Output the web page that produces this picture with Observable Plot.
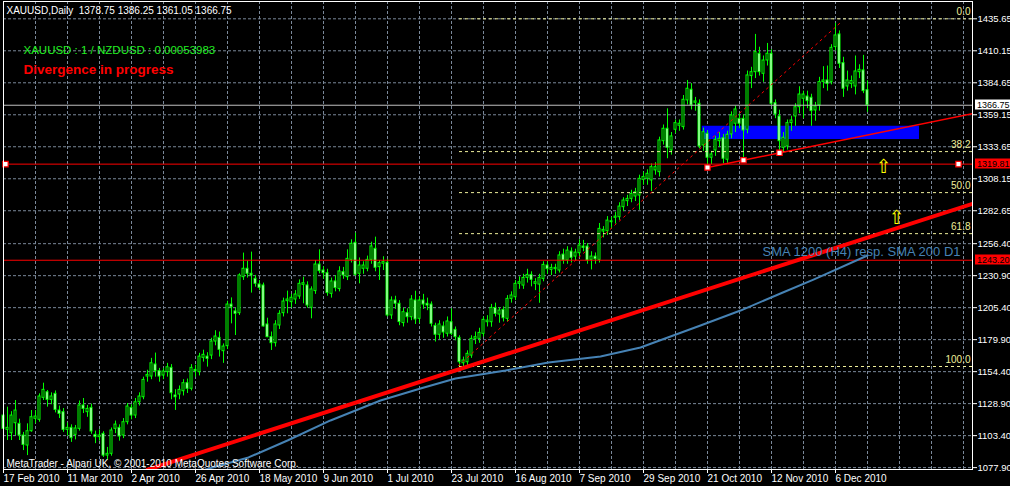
<!DOCTYPE html>
<html><head><meta charset="utf-8">
<script src="https://cdn.jsdelivr.net/npm/d3@7"></script>
<script src="https://cdn.jsdelivr.net/npm/@observablehq/plot@0.6"></script>
<style>
html,body{margin:0;padding:0;background:#000;overflow:hidden}
#chart{width:1010px;height:486px}
</style></head><body><div id="chart"></div>
<script>
// ---- Daily XAUUSD candles (bar index 0 = 17 Feb 2010) ----
const opens = [1119.4,1108.0,1105.3,1113.3,1112.8,1103.5,1095.5,1106.9,1116.8,1116.0,
1133.5,1138.0,1131.9,1136.7,1123.4,1122.1,1108.0,1109.6,1104.0,1108.8,
1127.4,1122.1,1125.5,1104.0,1102.2,1104.8,1087.5,1088.9,1108.8,1109.6,
1103.5,1114.1,1125.5,1119.4,1130.0,1134.0,1150.5,1150.5,1160.1,1154.8,
1151.3,1154.0,1157.4,1135.4,1136.2,1138.8,1145.2,1140.7,1155.8,1154.0,
1165.4,1166.4,1167.2,1178.4,1181.3,1170.7,1174.7,1207.9,1202.4,1201.0,
1229.7,1236.4,1232.4,1228.4,1223.9,1223.1,1192.0,1181.9,1177.1,1191.2,
1201.0,1210.6,1209.8,1211.9,1214.3,1223.6,1223.1,1205.3,1218.6,1239.8,
1235.0,1232.9,1216.4,1226.3,1220.2,1233.7,1229.7,1243.5,1257.1,1232.4,
1236.4,1236.4,1243.5,1252.3,1237.7,1240.4,1241.2,1199.2,1211.1,1208.5,
1193.1,1201.0,1197.8,1211.1,1196.5,1211.1,1208.5,1207.9,1190.9,1183.8,
1190.4,1184.6,1193.8,1187.7,1181.3,1161.1,1161.9,1167.2,1180.5,1180.5,
1184.5,1193.8,1193.8,1205.2,1199.9,1203.6,1196.5,1212.4,1213.7,1224.4,
1223.0,1229.1,1231.5,1224.4,1223.8,1228.3,1239.0,1235.5,1236.1,1235.0,
1247.7,1243.0,1250.1,1246.1,1248.8,1254.1,1254.1,1243.5,1246.1,1243.5,
1266.1,1266.3,1273.5,1277.0,1277.5,1285.5,1290.3,1292.1,1294.0,1294.8,
1307.3,1308.1,1306.8,1314.8,1313.4,1338.1,1348.0,1330.7,1347.2,1350.4,
1349.3,1370.6,1379.1,1368.7,1367.9,1334.7,1344.0,1324.9,1330.7,1338.1,
1340.5,1323.3,1343.5,1352.0,1355.9,1355.9,1347.2,1390.0,1393.1,1407.8,
1391.8,1402.4,1407.8,1368.4,1357.8,1332.8,1333.9,1352.5,1357.8,1365.2,
1371.9,1373.7,1372.7,1362.6,1366.6,1385.2,1386.5,1385.2,1413.1,1423.2,
1400.3,1381.7,1383.8,1381.7,1393.1,1394.5,1378.75];
const highs = [1123.0,1126.1,1122.5,1131.4,1116.5,1106.0,1112.8,1123.4,1123.4,1136.7,
1145.2,1139.4,1137.5,1139.0,1127.0,1125.0,1113.5,1112.0,1111.5,1131.0,
1133.0,1127.5,1128.5,1107.0,1108.0,1106.5,1094.0,1109.5,1115.0,1112.0,
1117.0,1129.0,1128.0,1133.0,1137.5,1150.0,1155.5,1165.0,1169.2,1157.0,
1157.0,1161.0,1160.0,1140.0,1143.0,1148.0,1148.5,1160.0,1159.5,1169.0,
1171.5,1169.5,1181.0,1187.0,1186.0,1176.5,1210.5,1213.2,1205.0,1232.4,
1248.9,1242.5,1249.7,1231.1,1227.0,1225.0,1197.0,1186.0,1195.0,1203.0,
1213.0,1218.6,1216.0,1219.0,1227.5,1229.7,1226.0,1222.0,1243.0,1251.5,
1238.0,1236.0,1229.0,1231.0,1238.0,1237.5,1251.5,1259.5,1264.8,1245.0,
1242.0,1246.5,1257.6,1261.6,1243.0,1246.0,1244.0,1214.0,1214.5,1211.0,
1205.0,1204.5,1215.0,1218.5,1214.0,1216.0,1213.0,1210.0,1193.0,1195.0,
1194.0,1198.0,1204.5,1190.0,1183.0,1166.0,1171.0,1183.0,1186.0,1189.0,
1198.0,1199.0,1208.0,1209.0,1205.5,1206.0,1215.0,1218.0,1227.0,1230.0,
1232.0,1236.0,1234.0,1228.5,1232.0,1242.0,1242.0,1240.0,1240.0,1250.0,
1252.0,1254.0,1253.0,1252.0,1259.5,1259.0,1256.5,1250.0,1249.0,1272.5,
1270.0,1278.0,1277.5,1281.5,1289.0,1293.0,1295.0,1299.0,1300.5,1311.0,
1313.5,1315.3,1320.0,1321.0,1341.3,1351.0,1363.9,1345.0,1355.0,1355.0,
1374.5,1386.5,1384.0,1373.0,1371.0,1348.5,1346.5,1330.0,1342.0,1345.0,
1343.5,1346.0,1361.5,1366.0,1360.0,1359.0,1394.0,1397.0,1423.2,1413.0,
1406.0,1416.0,1411.0,1371.0,1362.8,1345.0,1355.0,1358.0,1368.0,1381.5,
1378.0,1378.0,1375.5,1369.0,1389.0,1397.5,1398.0,1415.0,1432.0,1426.0,
1405.0,1394.0,1390.0,1406.0,1399.0,1406.5,1386.25];
const lows = [1106.0,1099.5,1099.5,1103.5,1099.5,1091.5,1087.5,1106.1,1112.8,1114.1,
1131.4,1126.1,1128.0,1121.5,1117.0,1106.0,1103.0,1098.0,1100.0,1107.0,
1121.0,1118.0,1104.5,1097.0,1099.0,1086.0,1084.0,1087.0,1105.0,1099.0,
1101.0,1112.0,1116.0,1117.0,1127.0,1132.0,1146.0,1148.0,1150.0,1146.0,
1148.0,1150.0,1132.0,1123.5,1132.0,1135.0,1137.0,1139.0,1150.0,1151.0,
1162.0,1158.0,1164.0,1175.0,1166.0,1161.0,1172.0,1192.5,1183.2,1199.2,
1227.1,1229.0,1217.0,1221.7,1219.0,1189.9,1181.4,1171.3,1174.0,1188.0,
1198.0,1200.5,1205.0,1208.0,1212.0,1208.5,1205.0,1196.5,1216.0,1232.4,
1228.0,1214.5,1213.0,1218.0,1218.0,1228.0,1227.0,1241.0,1230.5,1224.4,
1232.0,1234.0,1240.0,1234.0,1227.1,1235.0,1198.0,1196.0,1204.0,1191.0,
1190.0,1193.0,1195.0,1192.0,1193.0,1204.0,1203.0,1190.0,1178.0,1180.0,
1181.0,1182.0,1183.0,1179.0,1158.0,1157.0,1159.0,1165.0,1176.0,1177.0,
1182.0,1190.0,1189.8,1198.0,1193.0,1194.0,1194.0,1209.0,1211.0,1220.0,
1220.0,1225.0,1222.0,1219.0,1208.9,1226.0,1232.0,1231.0,1232.0,1233.0,
1240.0,1240.0,1241.0,1243.0,1246.0,1250.0,1240.0,1235.5,1240.0,1241.0,
1261.0,1263.0,1268.0,1272.0,1275.0,1282.0,1286.0,1289.0,1290.0,1283.0,
1303.0,1303.0,1298.0,1311.0,1309.5,1335.0,1324.1,1327.0,1344.0,1346.0,
1347.0,1367.0,1363.0,1362.0,1332.0,1330.0,1317.0,1319.5,1326.0,1333.0,
1320.0,1320.5,1340.0,1345.0,1348.0,1322.7,1344.0,1380.0,1388.0,1390.0,
1385.0,1398.0,1366.0,1356.0,1329.4,1329.0,1331.0,1346.0,1350.0,1360.0,
1356.0,1364.0,1350.0,1354.0,1362.0,1380.0,1378.0,1383.0,1410.0,1396.0,
1373.0,1378.0,1380.0,1375.0,1388.0,1376.0,1361.05];
const closes = [1108.8,1109.6,1119.4,1123.4,1103.5,1096.0,1106.9,1118.1,1118.6,1134.6,
1139.9,1131.9,1134.6,1123.9,1120.7,1108.0,1109.6,1101.4,1109.1,1127.4,
1124.7,1124.7,1106.7,1102.2,1103.5,1087.5,1088.9,1107.5,1112.2,1102.7,
1114.1,1126.6,1119.4,1130.0,1134.6,1147.8,1151.8,1161.1,1154.8,1150.5,
1154.5,1157.9,1137.2,1134.0,1139.9,1145.2,1140.7,1157.4,1154.8,1166.4,
1167.8,1164.6,1178.4,1182.4,1171.8,1174.4,1207.9,1205.8,1200.5,1231.1,
1236.4,1232.4,1231.1,1224.4,1221.2,1190.4,1181.9,1177.1,1192.0,1200.5,
1210.3,1211.9,1213.3,1215.9,1224.4,1224.9,1207.1,1219.9,1239.8,1234.5,
1232.9,1217.0,1226.3,1221.0,1234.3,1231.1,1244.3,1256.3,1231.6,1239.0,
1239.0,1243.5,1254.2,1237.2,1240.9,1241.7,1199.2,1211.1,1208.5,1193.9,
1201.8,1197.8,1211.9,1196.0,1211.1,1207.9,1207.1,1192.5,1183.8,1192.0,
1185.6,1194.4,1184.5,1181.9,1161.9,1163.3,1168.6,1180.5,1181.9,1185.3,
1195.7,1195.1,1205.2,1200.4,1203.1,1197.0,1212.4,1215.1,1224.4,1225.7,
1229.1,1231.5,1227.6,1225.7,1229.1,1239.5,1236.1,1237.1,1237.1,1247.0,
1243.0,1250.9,1245.1,1249.3,1254.9,1253.1,1243.0,1246.1,1244.0,1268.2,
1267.4,1274.8,1274.3,1278.0,1286.0,1290.8,1292.1,1296.1,1297.4,1308.1,
1309.5,1312.1,1317.4,1317.4,1338.7,1348.0,1332.8,1341.9,1352.5,1352.0,
1371.1,1379.9,1366.6,1369.8,1333.9,1345.3,1324.9,1327.5,1339.2,1340.0,
1324.1,1343.2,1358.6,1363.4,1352.0,1346.6,1390.5,1393.1,1409.1,1393.1,
1402.4,1407.8,1367.9,1359.4,1338.1,1340.8,1352.5,1354.6,1365.2,1375.3,
1375.3,1370.0,1362.1,1365.8,1385.2,1386.5,1383.8,1412.5,1422.4,1399.8,
1379.9,1386.5,1386.0,1393.7,1395.0,1378.0,1366.75];

// ---- axes ----
const dateTickIndex = [0,16,32,48,64,80,96,112,128,144,160,176,192,208];
const dateTickLabels = ["17 Feb 2010","11 Mar 2010","2 Apr 2010","26 Apr 2010","18 May 2010","9 Jun 2010","1 Jul 2010","23 Jul 2010","16 Aug 2010","7 Sep 2010","29 Sep 2010","21 Oct 2010","12 Nov 2010","6 Dec 2010"];
const gridIndex = [0,8,16,24,32,40,48,56,64,72,80,88,96,104,112,120,128,136,144,152,160,168,176,184,192,200,208,216,224,232,240];
const priceTicks = [1435.65,1410.15,1384.65,1359.15,1333.65,1308.15,1282.65,1256.40,1230.90,1205.40,1179.90,1154.40,1128.90,1103.40,1077.90];

// ---- SMA 200 D1 ----
const smaIndex = [50.5,61.25,71,81.75,94.25,104.25,113,125.5,136.25,149.25,159.25,174.25,184.25,194.25,202.5,216];
const smaValues = [1076.4,1086.0,1099.5,1115.5,1131.4,1141.0,1148.9,1155.3,1161.7,1166.5,1173.6,1191.2,1203.1,1216.7,1227.8,1247.0];

// ---- drawn objects ----
const trendIndex = [36, 242.25];          // long-term support (thick)
const trendPrice = [1076.2, 1288.2];
const supportIndex = [176, 242.25];       // short-term support (thin)
const supportPrice = [1317.1, 1360.0];
const fibDiagIndex = [113.75, 209];       // Fibonacci anchor line
const fibDiagPrice = [1159.3, 1431.9];
const fibLabels = ["0.0","38.2","50.0","61.8","100.0"];
const fibPrices = [1435.65,1329.8,1297.1,1264.4,1158.5];
const fibStart = 114;
const levelPrices = [1319.81, 1243.20];
const markerIndex = [0.5, 238.75, 176, 185, 194];
const markerPrice = [1319.81, 1319.81, 1317.1, 1322.9, 1328.8];
const zoneIndex = [174.7, 229];
const zonePrice = [1339.4, 1350.0];
const arrowIndex = [220, 223.25];
const arrowPrice = [1317.9, 1277.3];
const smaNoteIndex = 239.25, smaNotePrice = 1250.2;

const rows = opens.map((o, i) => ({i, o, h: highs[i], l: lows[i], c: closes[i]}));
const bulls = rows.filter(d => d.c >= d.o), bears = rows.filter(d => d.c < d.o);
const sma = smaIndex.map((i, k) => ({i, v: smaValues[k]}));
const trend = trendIndex.map((i, k) => ({i, v: trendPrice[k]}));
const support = supportIndex.map((i, k) => ({i, v: supportPrice[k]}));
const fibDiag = fibDiagIndex.map((i, k) => ({i, v: fibDiagPrice[k]}));
const fibs = fibLabels.map((t, k) => ({t, v: fibPrices[k]}));
const markers = markerIndex.map((i, k) => ({i, v: markerPrice[k]}));
const arrows = arrowIndex.map((i, k) => ({i, v: arrowPrice[k]}));
const last = rows[rows.length - 1];
const labelMap = new Map(dateTickIndex.map((d, k) => [d, dateTickLabels[k]]));
const header = `XAUUSD,Daily  ${last.o.toFixed(2)} ${last.h.toFixed(2)} ${last.l.toFixed(2)} ${last.c.toFixed(2)}`;
const lime = "#00ff00", fibColor = "#eeee9a", gridColor = "#7a8899";

const plot = Plot.plot({
  width: 1010, height: 486,
  marginLeft: 3, marginRight: 38, marginTop: 1, marginBottom: 17,
  style: {background: "#000", color: "#fff", fontFamily: "'Liberation Sans', Arial, sans-serif", fontSize: "10px", overflow: "visible"},
  x: {domain: [0, 242.25], axis: null},
  y: {domain: [1076.4, 1449.44], axis: null},
  marks: [
    Plot.gridY(priceTicks, {stroke: gridColor, strokeOpacity: 1, strokeDasharray: "3,2"}),
    Plot.gridX(gridIndex, {stroke: gridColor, strokeOpacity: 1, strokeDasharray: "3,2"}),
    Plot.rect([0], {x1: zoneIndex[0], x2: zoneIndex[1], y1: zonePrice[0], y2: zonePrice[1], fill: "#0000ff"}),
    Plot.ruleX(rows, {x: "i", y1: "l", y2: "h", stroke: lime}),
    Plot.rect(bulls, {x1: d => d.i - 0.25, x2: d => d.i + 0.25, y1: "o", y2: "c", fill: "#000", stroke: lime}),
    Plot.rect(bears, {x1: d => d.i - 0.25, x2: d => d.i + 0.25, y1: "o", y2: "c", fill: "#fff", stroke: lime}),
    Plot.ruleY(fibs, {y: "v", x1: fibStart, x2: 242.25, stroke: fibColor, strokeDasharray: "3,3"}),
    Plot.text(fibs, {x: 242.25, y: "v", text: "t", textAnchor: "end", dx: -2, dy: -7, fill: fibColor, fontSize: 10}),
    Plot.ruleY(levelPrices, {y: d => d, stroke: "#ff0000"}),
    Plot.ruleY([last.c], {y: d => d, stroke: "#c0c0c0"}),
    Plot.line(sma, {x: "i", y: "v", stroke: "#4682b4", strokeWidth: 2, clip: true}),
    Plot.line(trend, {x: "i", y: "v", stroke: "#ff0000", strokeWidth: 4, clip: true}),
    Plot.line(support, {x: "i", y: "v", stroke: "#ff0000", strokeWidth: 1.5, clip: true}),
    Plot.line(fibDiag, {x: "i", y: "v", stroke: "#ff0000", strokeWidth: 1, strokeDasharray: "2,4"}),
    Plot.dot(markers, {x: "i", y: "v", symbol: "square", r: 3, fill: "#fff", stroke: "#ff0000", strokeWidth: 1.2}),
    Plot.text(arrows, {x: "i", y: "v", text: () => "⇧", fill: "#ffff00", fontSize: 19, fontFamily: "DejaVu Sans"}),
    Plot.text(["SMA 1200 (H4) resp. SMA 200 D1"], {x: smaNoteIndex, y: smaNotePrice, text: d => d, textAnchor: "end", fill: "#4682b4", fontSize: 13}),
    Plot.text([header], {frameAnchor: "top-left", dx: 3, dy: 5, text: d => d, textAnchor: "start", lineAnchor: "top", fill: "#fff", fontSize: 10}),
    Plot.text(["XAUUSD : 1 / NZDUSD : 0.00053983"], {frameAnchor: "top-left", dx: 20, dy: 44, text: d => d, textAnchor: "start", lineAnchor: "top", fill: "#22ee22", fontSize: 11.5}),
    Plot.text(["Divergence in progress"], {frameAnchor: "top-left", dx: 20, dy: 63, text: d => d, textAnchor: "start", lineAnchor: "top", fill: "#ff0000", fontSize: 13.5, fontWeight: "bold"}),
    Plot.text(["MetaTrader - Alpari UK, © 2001-2010 MetaQuotes Software Corp."], {frameAnchor: "bottom-left", dx: 3, dy: -3, text: d => d, textAnchor: "start", lineAnchor: "bottom", fill: "#fff", fontSize: 10}),
    Plot.frame({stroke: "#fff"}),
    Plot.axisY(priceTicks, {anchor: "right", tickSize: 4, tickPadding: 1, tickFormat: d => d.toFixed(2), fontSize: 9.5, label: null}),
    Plot.axisX(dateTickIndex, {anchor: "bottom", tickSize: 4, tickPadding: 1, tickFormat: d => labelMap.get(d), textAnchor: "start", fontSize: 10, label: null})
  ]
});
document.getElementById("chart").append(plot);

// price tags in the right margin, placed with the plot's own y scale
const yS = plot.scale("y");
const tags = [{v: last.c, bg: "#fff", fg: "#000"}, {v: levelPrices[0], bg: "#ff0000", fg: "#000"}, {v: levelPrices[1], bg: "#ff0000", fg: "#000"}];
const NS = "http://www.w3.org/2000/svg";
for (const t of tags) {
  const yy = yS.apply(t.v);
  const r = document.createElementNS(NS, "rect");
  r.setAttribute("x", 975); r.setAttribute("width", 40);
  r.setAttribute("y", Math.round(yy) - 5.5); r.setAttribute("height", 10);
  r.setAttribute("fill", t.bg);
  plot.appendChild(r);
  const tx = document.createElementNS(NS, "text");
  tx.setAttribute("x", 977); tx.setAttribute("y", Math.round(yy) + 3);
  tx.setAttribute("text-anchor", "start");
  tx.setAttribute("fill", t.fg); tx.setAttribute("font-size", "9px");
  tx.textContent = t.v.toFixed(2);
  plot.appendChild(tx);
}
</script></body></html>
